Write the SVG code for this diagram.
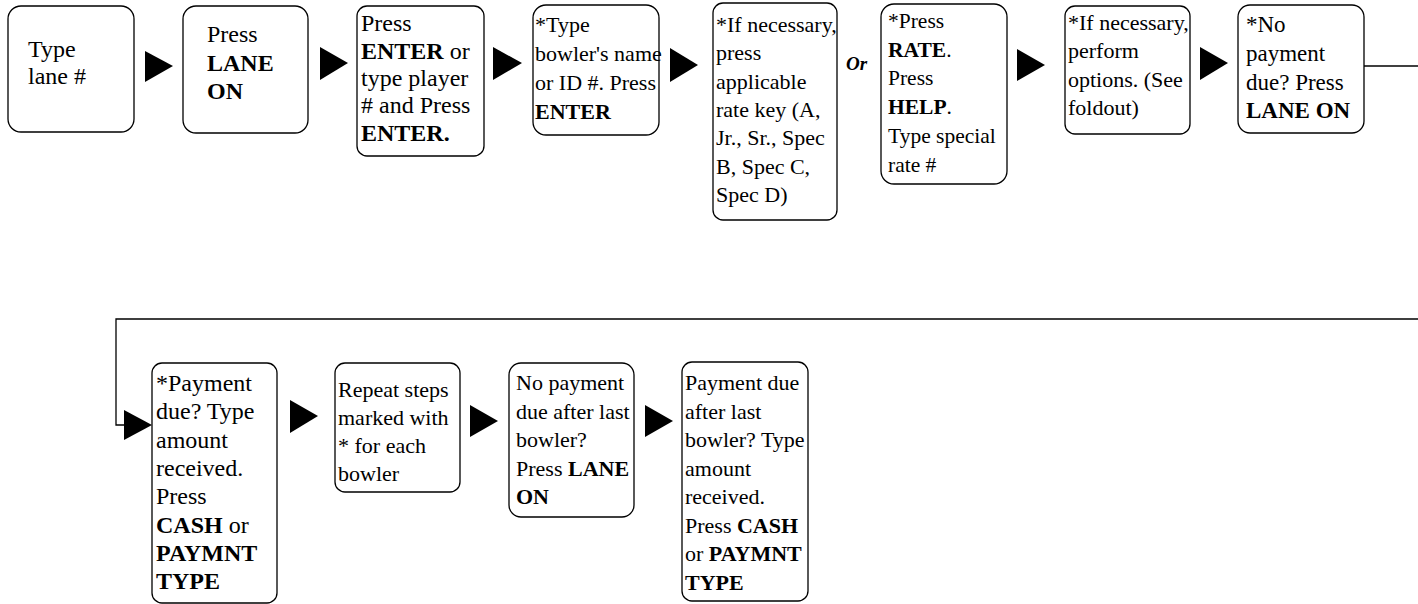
<svg xmlns="http://www.w3.org/2000/svg" width="1418" height="604" viewBox="0 0 1418 604" font-family="Liberation Serif, Times New Roman, serif">
<style>
.box{fill:#fff;stroke:#000;stroke-width:1.3}
.t{font-size:22px;fill:#000}
#n1 .t,#n2 .t,#n3 .t,#n9 .t{font-size:24px}
#n8 .t{font-size:23px}
#n6 .t{font-size:21.5px}
.b{font-weight:bold}
.arr{fill:#000}
.ln{fill:none;stroke:#000;stroke-width:1.3}
.or{font-size:19px;font-weight:bold;font-style:italic;fill:#000}
</style>
<rect width="1418" height="604" fill="#fff"/>
<g id="connectors">
<path class="arr" d="M145,51 L173,66 L145,82 Z"/>
<path class="arr" d="M320,47 L348,63 L320,80 Z"/>
<path class="arr" d="M493,47 L522,63 L493,80 Z"/>
<path class="arr" d="M670,48 L698,65 L670,82 Z"/>
<path class="arr" d="M1017,49 L1045,65 L1017,81 Z"/>
<path class="arr" d="M1200,47 L1228,63 L1200,80 Z"/>
<path class="ln" d="M1364,66 L1418,66"/>
<path class="ln" d="M1418,319 L116,319 L116,425 L126,425"/>
<path class="arr" d="M124,410 L152,425 L124,440 Z"/>
<path class="arr" d="M290,400 L318,416 L290,433 Z"/>
<path class="arr" d="M470,405 L498,421 L470,437 Z"/>
<path class="arr" d="M645,405 L673,421 L645,437 Z"/>
<text class="or" x="846" y="70">Or</text>
</g>
<g id="n1">
<rect class="box" x="8" y="6" width="126" height="126" rx="13"/>
<text class="t" x="28" y="57">Type</text>
<text class="t" x="28" y="84">lane #</text>
</g>
<g id="n2">
<rect class="box" x="183" y="6" width="125" height="127" rx="13"/>
<text class="t" x="207" y="42">Press</text>
<text class="t b" x="207" y="71">LANE</text>
<text class="t b" x="207" y="99">ON</text>
</g>
<g id="n3">
<rect class="box" x="357" y="6" width="127" height="150" rx="10"/>
<text class="t" x="361" y="31">Press</text>
<text class="t" x="361" y="59"><tspan class="b">ENTER</tspan> or</text>
<text class="t" x="361" y="86">type player</text>
<text class="t" x="361" y="113"># and Press</text>
<text class="t b" x="361" y="141">ENTER.</text>
</g>
<g id="n4">
<rect class="box" x="533" y="5" width="126" height="130" rx="13"/>
<text class="t" x="535" y="32">*Type</text>
<text class="t" x="535" y="61">bowler's name</text>
<text class="t" x="535" y="90">or ID #. Press</text>
<text class="t b" x="535" y="119">ENTER</text>
</g>
<g id="n5">
<rect class="box" x="713" y="3" width="124" height="217" rx="10"/>
<text class="t" x="716" y="32">*If necessary,</text>
<text class="t" x="716" y="60">press</text>
<text class="t" x="716" y="89">applicable</text>
<text class="t" x="716" y="117">rate key (A,</text>
<text class="t" x="716" y="145">Jr., Sr., Spec</text>
<text class="t" x="716" y="174">B, Spec C,</text>
<text class="t" x="716" y="202">Spec D)</text>
</g>
<g id="n6">
<rect class="box" x="881" y="4" width="126" height="180" rx="13"/>
<text class="t" x="888" y="28">*Press</text>
<text class="t" x="888" y="57"><tspan class="b">RATE</tspan>.</text>
<text class="t" x="888" y="85">Press</text>
<text class="t" x="888" y="114"><tspan class="b">HELP</tspan>.</text>
<text class="t" x="888" y="143">Type special</text>
<text class="t" x="888" y="172">rate #</text>
</g>
<g id="n7">
<rect class="box" x="1065" y="6" width="125" height="128" rx="10"/>
<text class="t" x="1068" y="30">*If necessary,</text>
<text class="t" x="1068" y="58">perform</text>
<text class="t" x="1068" y="87">options. (See</text>
<text class="t" x="1068" y="115">foldout)</text>
</g>
<g id="n8">
<rect class="box" x="1238" y="5" width="126" height="128" rx="12"/>
<text class="t" x="1246" y="32">*No</text>
<text class="t" x="1246" y="61">payment</text>
<text class="t" x="1246" y="90">due? Press</text>
<text class="t b" x="1246" y="118">LANE ON</text>
</g>
<g id="n9">
<rect class="box" x="152" y="363" width="125" height="240" rx="10"/>
<text class="t" x="156" y="391">*Payment</text>
<text class="t" x="156" y="419">due? Type</text>
<text class="t" x="156" y="448">amount</text>
<text class="t" x="156" y="476">received.</text>
<text class="t" x="156" y="504">Press</text>
<text class="t" x="156" y="533"><tspan class="b">CASH</tspan> or</text>
<text class="t b" x="156" y="561">PAYMNT</text>
<text class="t b" x="156" y="589">TYPE</text>
</g>
<g id="n10">
<rect class="box" x="335" y="363" width="125" height="129" rx="10"/>
<text class="t" x="338" y="397">Repeat steps</text>
<text class="t" x="338" y="425">marked with</text>
<text class="t" x="338" y="453">* for each</text>
<text class="t" x="338" y="481">bowler</text>
</g>
<g id="n11">
<rect class="box" x="509" y="363" width="125" height="154" rx="12"/>
<text class="t" x="516" y="390">No payment</text>
<text class="t" x="516" y="419">due after last</text>
<text class="t" x="516" y="447">bowler?</text>
<text class="t" x="516" y="476">Press <tspan class="b">LANE</tspan></text>
<text class="t b" x="516" y="504">ON</text>
</g>
<g id="n12">
<rect class="box" x="682" y="362" width="126" height="239" rx="10"/>
<text class="t" x="685" y="390">Payment due</text>
<text class="t" x="685" y="419">after last</text>
<text class="t" x="685" y="447">bowler? Type</text>
<text class="t" x="685" y="476">amount</text>
<text class="t" x="685" y="504">received.</text>
<text class="t" x="685" y="533">Press <tspan class="b">CASH</tspan></text>
<text class="t" x="685" y="561">or <tspan class="b">PAYMNT</tspan></text>
<text class="t b" x="685" y="590">TYPE</text>
</g>
</svg>
